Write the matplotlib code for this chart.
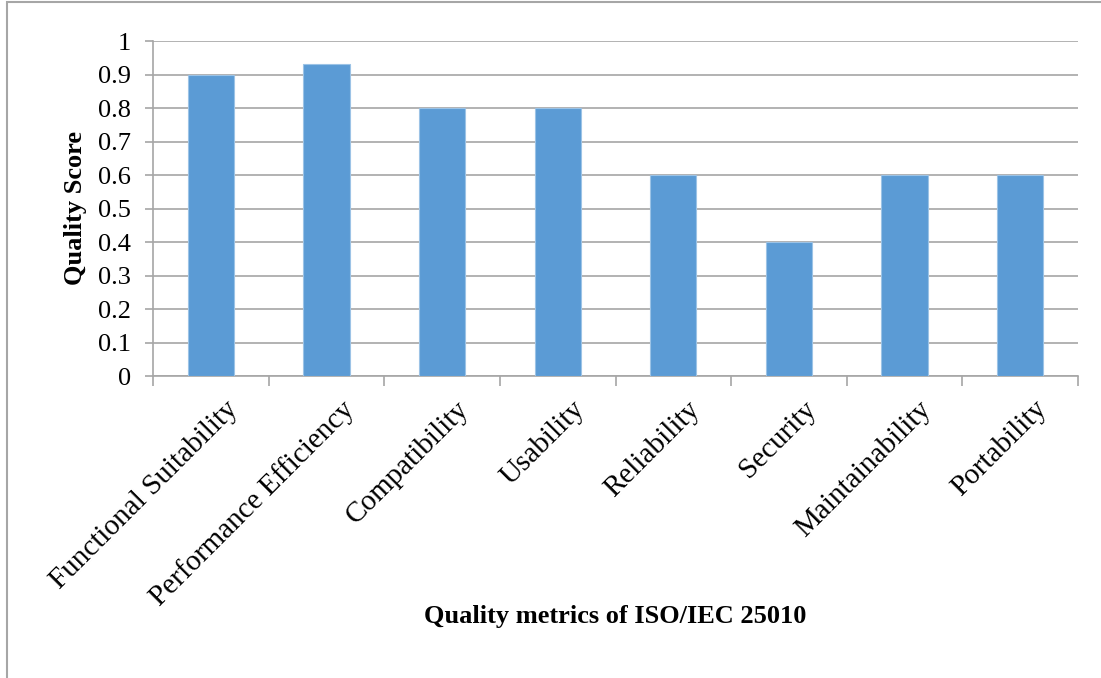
import numpy as np
import matplotlib.pyplot as plt
from matplotlib.patches import Rectangle

plt.rcParams['font.family'] = ['Liberation Serif', 'DejaVu Serif']

metrics = ['Functional Suitability', 'Performance Efficiency', 'Compatibility',
           'Usability', 'Reliability', 'Security', 'Maintainability', 'Portability']
scores = [0.9, 0.93, 0.8, 0.8, 0.6, 0.4, 0.6, 0.6]
y_ticks = [0, 0.1, 0.2, 0.3, 0.4, 0.5, 0.6, 0.7, 0.8, 0.9, 1]
y_tick_labels = ['0', '0.1', '0.2', '0.3', '0.4', '0.5', '0.6', '0.7', '0.8', '0.9', '1']

fig = plt.figure(figsize=(11.01, 6.78), dpi=100)
W, H = 1101, 678
# plot area in pixels: left 153, right 1078, top 41, bottom 376
ax = fig.add_axes([153 / W, 1 - 376 / H, (1078 - 153) / W, (376 - 41) / H])

# chart frame
fig.patches.append(Rectangle((7 / W, -0.1), 1.2, 1 - 2 / H + 0.1, transform=fig.transFigure,
                             fill=False, edgecolor='#a6a6a6', linewidth=1.5))

x = np.arange(len(metrics))
ax.bar(x, scores, width=0.4, color='#5b9bd5', edgecolor='#9cc3e6', linewidth=0.8, zorder=3)

ax.set_xlim(-0.5, len(metrics) - 0.5)
ax.set_ylim(0, 1)
ax.set_yticks(y_ticks)
ax.set_yticklabels(y_tick_labels, fontsize=19)
ax.yaxis.grid(True, color='#a6a6a6', linewidth=1.2, zorder=0)

ax.set_xticks(np.arange(len(metrics) + 1) - 0.5, minor=False)
ax.set_xticklabels([])
ax.tick_params(axis='x', length=7, color='#a6a6a6', width=1.2)
ax.tick_params(axis='y', length=6, color='#a6a6a6', width=1.2, pad=10)

for i, name in enumerate(metrics):
    ax.text(i + 0.12, -0.06, name, rotation=45, ha='right', va='top',
            rotation_mode='anchor', fontsize=21, transform=ax.transData)

for side in ['top', 'right']:
    ax.spines[side].set_visible(False)
ax.spines['left'].set_color('#a6a6a6')
ax.spines['bottom'].set_color('#a6a6a6')
ax.spines['left'].set_linewidth(1.2)
ax.spines['bottom'].set_linewidth(1.2)

fig.text(75 / W, 1 - 208 / H, 'Quality Score', rotation=90, ha='center', va='center',
         fontsize=19, fontweight='bold')
fig.text(615 / W, 1 - 617 / H, 'Quality metrics of ISO/IEC 25010', ha='center', va='center',
         fontsize=19, fontweight='bold')

fig.savefig('out.png', dpi=100)
